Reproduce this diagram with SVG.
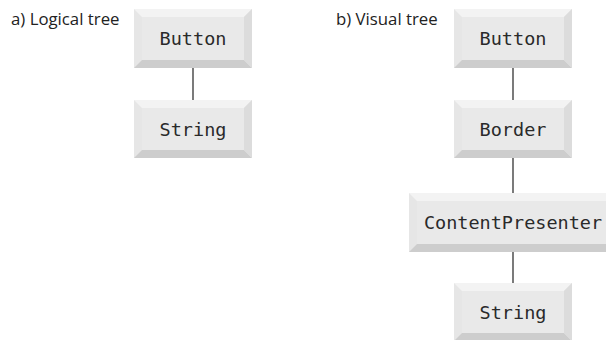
<svg xmlns="http://www.w3.org/2000/svg" width="606" height="340" viewBox="0 0 606 340">
<style>
.edge{fill:#e6e6e6}
.top{fill:#f3f3f3}
.bot{fill:#cdcdcd}
.rgt{fill:#dcdcdc}
.face{fill:#e9e9e9}
.lbl{font-family:"DejaVu Sans Mono","Liberation Mono",monospace;font-size:18.5px;fill:#2a2a2a;text-anchor:middle}
.cap{font-family:"Open Sans","Noto Sans",sans-serif;font-size:16.8px;fill:#222}
.conn line{stroke:#333;stroke-width:1.3}
</style>
<rect width="606" height="340" fill="#fff"/>
<text class="cap" x="11" y="25">a) Logical tree</text>
<text class="cap" x="336" y="25">b) Visual tree</text>
<g class="conn" id="connectors">
<line x1="193" y1="68" x2="193" y2="100"/>
<line x1="513" y1="68" x2="513" y2="100"/>
<line x1="513" y1="158" x2="513" y2="193"/>
<line x1="513" y1="252" x2="513" y2="283"/>
</g>
<g id="a-button">
<rect class="edge" x="134" y="9" width="118" height="59"/>
<polygon class="top" points="134,9 252,9 244,17 142,17"/>
<polygon class="bot" points="134,68 252,68 244,60 142,60"/>
<polygon class="rgt" points="252,9 244,17 244,60 252,68"/>
<rect class="face" x="142" y="17" width="102" height="43"/>
<text class="lbl" x="193" y="45">Button</text>
</g>
<g id="a-string">
<rect class="edge" x="134" y="100" width="118" height="58"/>
<polygon class="top" points="134,100 252,100 244,108 142,108"/>
<polygon class="bot" points="134,158 252,158 244,150 142,150"/>
<polygon class="rgt" points="252,100 244,108 244,150 252,158"/>
<rect class="face" x="142" y="108" width="102" height="42"/>
<text class="lbl" x="193" y="136">String</text>
</g>
<g id="b-button">
<rect class="edge" x="454" y="9" width="118" height="59"/>
<polygon class="top" points="454,9 572,9 564,17 462,17"/>
<polygon class="bot" points="454,68 572,68 564,60 462,60"/>
<polygon class="rgt" points="572,9 564,17 564,60 572,68"/>
<rect class="face" x="462" y="17" width="102" height="43"/>
<text class="lbl" x="513" y="45">Button</text>
</g>
<g id="b-border">
<rect class="edge" x="454" y="100" width="118" height="58"/>
<polygon class="top" points="454,100 572,100 564,108 462,108"/>
<polygon class="bot" points="454,158 572,158 564,150 462,150"/>
<polygon class="rgt" points="572,100 564,108 564,150 572,158"/>
<rect class="face" x="462" y="108" width="102" height="42"/>
<text class="lbl" x="513" y="136">Border</text>
</g>
<g id="b-contentpresenter">
<rect class="edge" x="409" y="193" width="208" height="59"/>
<polygon class="top" points="409,193 617,193 609,201 417,201"/>
<polygon class="bot" points="409,252 617,252 609,244 417,244"/>
<polygon class="rgt" points="617,193 609,201 609,244 617,252"/>
<rect class="face" x="417" y="201" width="192" height="43"/>
<text class="lbl" x="513" y="229">ContentPresenter</text>
</g>
<g id="b-string">
<rect class="edge" x="454" y="283" width="118" height="58"/>
<polygon class="top" points="454,283 572,283 564,291 462,291"/>
<polygon class="bot" points="454,341 572,341 564,333 462,333"/>
<polygon class="rgt" points="572,283 564,291 564,333 572,341"/>
<rect class="face" x="462" y="291" width="102" height="42"/>
<text class="lbl" x="513" y="319">String</text>
</g>
</svg>
